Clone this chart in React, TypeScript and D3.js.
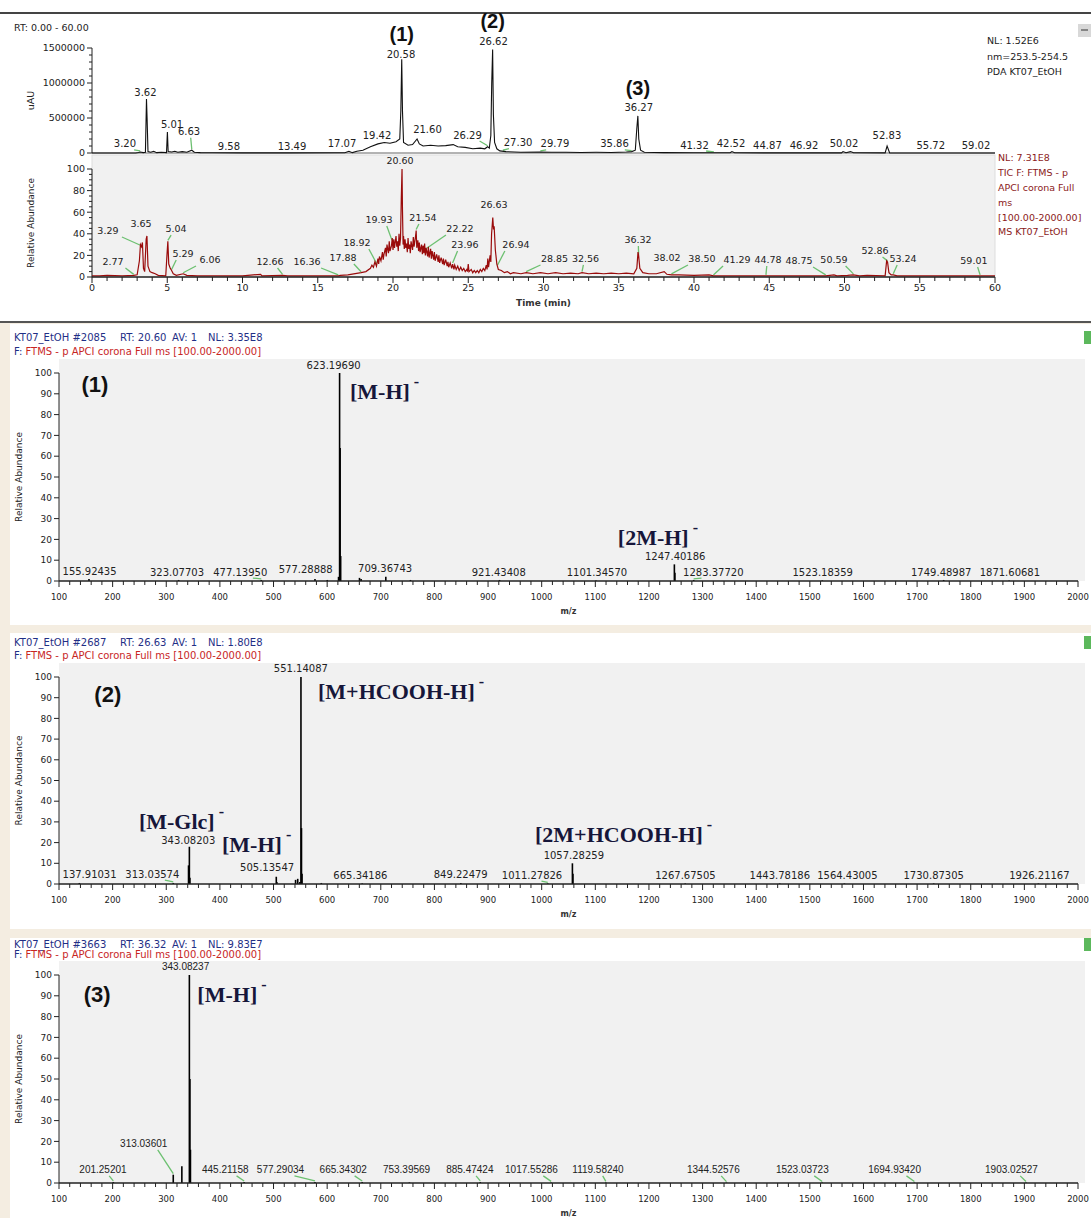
import * as d3 from "d3";
import React from "react";

const W = 1091;
const H = 1218;
const SANS = "'DejaVu Sans', Verdana, sans-serif";
const ARIAL = "'Liberation Sans', Arial, sans-serif";
const SERIF = "'Liberation Serif', 'Times New Roman', serif";

type Pt = [number, number];
type Lbl = [string, number, number];

// ---------- chromatograms ----------
// PDA trace, 253.5-254.5 nm: [time (min), uAU]
const uvTrace: Pt[] = [
	[0, 0], [2.9, 0], [3.1, 8000], [3.2, 15000], [3.4, 5000], [3.55, 10000], [3.62, 770000], [3.66, 500000],
	[3.72, 20000], [3.9, 10000], [4.1, 25000], [4.3, 5000], [4.6, 10000], [4.95, 5000], [5.01, 300000],
	[5.06, 20000], [5.3, 15000], [5.5, 25000], [5.7, 10000], [6.0, 20000], [6.3, 10000], [6.63, 40000],
	[6.8, 10000], [7.2, 5000], [8, 3000], [10, 2000], [13, 2000], [16.8, 3000], [17.07, 25000], [17.3, 5000],
	[17.6, 25000], [18, 40000], [18.5, 90000], [19, 130000], [19.42, 150000], [19.8, 140000], [20.2, 160000],
	[20.45, 200000], [20.52, 600000], [20.58, 1340000], [20.63, 600000], [20.7, 150000], [21, 110000],
	[21.3, 120000], [21.6, 200000], [21.75, 130000], [22, 100000], [22.5, 110000], [23, 100000], [23.5, 105000],
	[24, 120000], [24.3, 90000], [24.8, 80000], [25.3, 60000], [25.8, 70000], [26.1, 60000], [26.29, 90000],
	[26.4, 70000], [26.5, 250000], [26.56, 1000000], [26.62, 1480000], [26.67, 550000], [26.75, 150000],
	[26.9, 60000], [27.1, 30000], [27.5, 20000], [28.5, 10000], [29.79, 15000], [30.5, 10000], [31.5, 10000],
	[32.5, 8000], [33.5, 10000], [34.5, 8000], [35.5, 15000], [35.86, 20000], [36.1, 40000], [36.2, 350000],
	[36.27, 530000], [36.33, 200000], [36.45, 40000], [36.7, 10000], [38, 5000], [40, 3000], [42.4, 3000],
	[42.52, 20000], [42.7, 3000], [46, 2000], [49.8, 2000], [49.9, 20000], [50.1, 3000], [50.4, 20000],
	[50.6, 3000], [52.7, 2000], [52.83, 100000], [53, 2000], [60, 1000],
];

// TIC, relative abundance: [time (min), %]
const ticTrace: Pt[] = [
	[0, 1], [0.5, 1], [1, 1.5], [2, 1], [2.77, 1.5], [3.0, 2], [3.15, 15], [3.22, 30], [3.29, 28], [3.35, 32],
	[3.42, 8], [3.5, 5], [3.6, 35], [3.65, 38], [3.72, 10], [3.85, 5], [4.0, 4], [4.2, 3], [4.4, 1.5], [4.9, 1],
	[4.98, 20], [5.04, 33], [5.1, 12], [5.2, 8], [5.29, 6], [5.4, 3], [5.6, 1.5], [6.06, 3], [6.3, 1.5], [7, 1],
	[10, 1], [11.2, 2.5], [11.3, 1], [12.66, 1.5], [13, 1], [16.36, 1], [16.5, 1.5], [17, 2], [17.88, 4],
	[18.2, 5], [18.5, 8], [18.6, 11], [18.7, 9], [18.8, 14], [18.9, 10], [19.0, 17], [19.05, 12], [19.1, 19],
	[19.2, 15], [19.3, 23], [19.35, 16], [19.4, 21], [19.5, 27], [19.55, 19], [19.6, 30], [19.7, 22],
	[19.75, 33], [19.8, 24], [19.9, 29], [19.95, 36], [20.0, 25], [20.05, 35], [20.1, 27], [20.2, 38],
	[20.25, 28], [20.3, 33], [20.35, 24], [20.4, 40], [20.45, 29], [20.5, 36], [20.55, 72], [20.6, 100],
	[20.63, 62], [20.67, 30], [20.7, 38], [20.75, 26], [20.8, 35], [20.85, 27], [20.9, 31], [20.95, 23],
	[21.0, 36], [21.05, 26], [21.1, 30], [21.15, 22], [21.2, 33], [21.3, 25], [21.35, 37], [21.4, 28],
	[21.45, 33], [21.5, 38], [21.54, 43], [21.58, 27], [21.65, 34], [21.7, 24], [21.75, 32], [21.8, 23],
	[21.9, 30], [21.95, 21], [22.0, 29], [22.05, 22], [22.1, 31], [22.15, 20], [22.2, 27], [22.3, 19],
	[22.35, 28], [22.4, 18], [22.5, 26], [22.55, 17], [22.6, 24], [22.7, 16], [22.75, 23], [22.8, 15],
	[22.9, 21], [23.0, 14], [23.05, 20], [23.1, 13], [23.2, 18], [23.3, 12], [23.35, 17], [23.4, 11],
	[23.5, 16], [23.6, 10], [23.65, 14], [23.7, 9], [23.8, 13], [23.9, 8], [23.96, 12], [24.05, 7], [24.1, 11],
	[24.2, 7], [24.3, 10], [24.4, 6], [24.5, 9], [24.6, 6], [24.7, 8], [24.8, 5], [24.9, 7], [24.95, 5],
	[25.0, 12], [25.05, 5], [25.2, 7], [25.3, 4], [25.4, 6], [25.5, 4], [25.6, 6], [25.7, 4], [25.8, 7],
	[25.9, 5], [26.0, 8], [26.1, 6], [26.2, 11], [26.25, 7], [26.3, 17], [26.35, 9], [26.45, 20], [26.5, 14],
	[26.55, 40], [26.63, 55], [26.68, 44], [26.72, 47], [26.8, 25], [26.9, 12], [27.0, 7], [27.2, 6],
	[27.4, 4], [27.6, 5], [27.8, 3], [28.0, 4], [28.5, 3], [28.85, 4], [29.3, 3], [29.8, 4], [30.3, 3],
	[30.8, 4], [31.3, 3], [31.8, 3.5], [32.3, 3], [32.56, 4], [33, 3], [33.5, 3.5], [34, 3], [34.5, 3.5],
	[35, 3], [35.5, 3.5], [36.0, 3], [36.2, 8], [36.28, 23], [36.32, 20], [36.4, 8], [36.6, 4], [37, 3],
	[37.5, 3], [38.02, 5], [38.2, 2.5], [38.5, 2], [39, 2], [40, 1.5], [41, 2], [41.29, 1], [42, 1],
	[44.78, 1], [46, 1], [48.75, 1], [49.3, 2], [49.5, 1], [50.2, 1.5], [50.59, 2], [51, 1], [51.5, 1.5],
	[52.7, 1], [52.8, 15], [52.86, 14], [52.95, 4], [53.1, 2], [53.24, 2], [53.5, 1], [59.01, 1], [60, 1],
];

// peak labels: [text, label centre time, label centre level]
const uvLabels: Lbl[] = [
	["3.20", 2.19, 129000], ["3.62", 3.55, 861000], ["5.01", 5.32, 414000], ["6.63", 6.45, 304000],
	["9.58", 9.1, 100000], ["13.49", 13.29, 100000], ["17.07", 16.61, 129000], ["19.42", 18.94, 257000],
	["20.58", 20.53, 1414000], ["21.60", 22.29, 329000], ["26.29", 24.95, 257000], ["26.62", 26.68, 1590000],
	["27.30", 28.31, 147000], ["29.79", 30.76, 129000], ["35.86", 34.72, 129000], ["36.27", 36.33, 643000],
	["41.32", 40.03, 114000], ["42.52", 42.46, 129000], ["44.87", 44.88, 114000], ["46.92", 47.31, 114000],
	["50.02", 49.97, 129000], ["52.83", 52.82, 257000], ["55.72", 55.73, 114000], ["59.02", 58.74, 114000],
];

const ticLabels: Lbl[] = [
	["20.60", 20.47, 108], ["3.29", 1.06, 42.6], ["3.65", 3.26, 49], ["5.04", 5.58, 44.4], ["2.77", 1.4, 13.9],
	["5.29", 6.05, 21.3], ["6.06", 7.84, 15.7], ["12.66", 11.83, 13.9], ["16.36", 14.29, 13.9],
	["17.88", 16.68, 17.6], ["18.92", 17.61, 31.5], ["19.93", 19.07, 52.8], ["21.54", 21.99, 54.6],
	["22.22", 24.45, 44.4], ["23.96", 24.78, 29.6], ["26.63", 26.71, 66.7], ["26.94", 28.17, 29.6],
	["28.85", 30.73, 16.7], ["32.56", 32.79, 16.7], ["36.32", 36.28, 34.3], ["38.02", 38.21, 17.6],
	["38.50", 40.53, 16.7], ["41.29", 42.86, 15.7], ["44.78", 44.92, 15.7], ["48.75", 46.98, 14.8],
	["50.59", 49.3, 15.7], ["52.86", 52.03, 24.1], ["53.24", 53.89, 16.7], ["59.01", 58.6, 14.8],
];

const uvInfo = ["NL: 1.52E6", "nm=253.5-254.5", "PDA KT07_EtOH"];
const ticInfo = ["NL: 7.31E8", "TIC F: FTMS - p", "APCI corona Full", "ms", "[100.00-2000.00]", "MS KT07_EtOH"];

// ---------- mass spectra: [m/z, relative abundance] ----------
const spec1Peaks: Pt[] = [
	[155.92, 1], [323.08, 0.5], [477.14, 0.5], [577.29, 1], [600.2, 0.5], [621.19, 2], [623.1969, 100],
	[624.2, 64], [625.2, 12], [660.3, 1.5], [663.3, 1], [709.37, 2], [755.3, 0.5], [921.43, 0.5],
	[1101.35, 0.3], [1247.4019, 8], [1248.4, 4], [1283.38, 0.5], [1523.18, 0.3], [1749.49, 0.5], [1871.61, 0.3],
];
const spec1Labels: Lbl[] = [
	["155.92435", 157, 4.8], ["323.07703", 320, 4.3], ["477.13950", 438, 4.3], ["577.28888", 560, 5.3],
	["623.19690", 612, 103.8], ["709.36743", 708, 5.8], ["921.43408", 920, 4.3], ["1101.34570", 1103, 4.3],
	["1247.40186", 1249, 11.8], ["1283.37720", 1320, 4.3], ["1523.18359", 1524, 4.3],
	["1749.48987", 1745, 4.3], ["1871.60681", 1873, 4.3],
];

const spec2Peaks: Pt[] = [
	[137.91, 0.5], [313.04, 0.5], [341.5, 9], [343.082, 18], [344.09, 3], [505.135, 3.5], [506.14, 1],
	[541.1, 2], [545.1, 2.5], [549.12, 1], [551.14087, 100], [552.14, 27], [553.15, 5], [589.1, 0.5],
	[665.34, 0.3], [849.22, 0.5], [1011.28, 0.3], [1057.2826, 10], [1058.29, 5], [1267.68, 0.3],
	[1443.78, 0.3], [1564.43, 0.3], [1730.87, 0.3], [1926.21, 0.3],
];
const spec2Labels: Lbl[] = [
	["137.91031", 157, 4.8], ["313.03574", 274, 4.8], ["343.08203", 341, 21], ["505.13547", 488, 8.2],
	["551.14087", 551, 103.9], ["665.34186", 662, 3.9], ["849.22479", 849, 4.8], ["1011.27826", 982, 4.3],
	["1057.28259", 1060, 14], ["1267.67505", 1268, 3.9], ["1443.78186", 1444, 3.9], ["1564.43005", 1570, 3.9],
	["1730.87305", 1731, 3.9], ["1926.21167", 1928, 3.9],
];

const spec3Peaks: Pt[] = [
	[201.25, 0.5], [313.036, 4], [329.07, 8], [343.08237, 100], [344.09, 50], [345.09, 16], [445.21, 0.5],
	[577.29, 0.5], [665.34, 0.5], [753.4, 0.3], [885.47, 0.5], [1017.55, 0.3], [1119.58, 0.3],
	[1344.53, 0.2], [1523.04, 0.2], [1694.93, 0.2], [1903.03, 0.2],
];
const spec3Labels: Lbl[] = [
	["201.25201", 182, 6.3], ["313.03601", 258, 18.8], ["343.08237", 336, 104], ["445.21158", 410, 6.3],
	["577.29034", 513, 6.3], ["665.34302", 630, 6.3], ["753.39569", 748, 6.3], ["885.47424", 866, 6.3],
	["1017.55286", 981, 6.3], ["1119.58240", 1105, 6.3], ["1344.52576", 1320, 6.3], ["1523.03723", 1486, 6.3],
	["1694.93420", 1658, 6.3], ["1903.02527", 1876, 6.3],
];

const mzTicks = d3.range(100, 2001, 100);
const abTicks = d3.range(0, 101, 10);

const GREEN = "#6cc070";
const INK = "#222";

function traceAt(trace: Pt[], t: number): number {
	const i = d3.bisector((d: Pt) => d[0]).left(trace, t);
	if (i <= 0) return trace[0][1];
	if (i >= trace.length) return trace[trace.length - 1][1];
	const a = trace[i - 1], b = trace[i];
	return a[1] + ((b[1] - a[1]) * (t - a[0])) / (b[0] - a[0]);
}

function Connector({ lx, ly, px, py }: { lx: number; ly: number; px: number; py: number }) {
	if (Math.hypot(lx - px, ly - py) < 14) return null;
	const sx = lx + Math.max(-14, Math.min(14, (px - lx) * 0.6));
	return <line x1={sx} y1={ly + 6} x2={px} y2={Math.max(py - 1, ly + 6)} stroke={GREEN} strokeWidth={1.3} />;
}

function Chromatograms() {
	const x = d3.scaleLinear().domain([0, 60]).range([92, 995]);
	const yUV = d3.scaleLinear().domain([0, 1500000]).range([153, 48]);
	const yTIC = d3.scaleLinear().domain([0, 100]).range([277, 169]);
	const uvLine = d3.line<Pt>().x((d) => x(d[0])).y((d) => yUV(d[1]));
	const ticLine = d3.line<Pt>().x((d) => x(d[0])).y((d) => yTIC(d[1]));

	return (
		<g fontFamily={SANS}>
			<line x1={0} x2={W} y1={13} y2={13} stroke="#444" strokeWidth={2} />
			<text x={14} y={28} dy="0.35em" fontSize={9.5} fill={INK}>RT: 0.00 - 60.00</text>
			<rect x={1078} y={24} width={13} height={13} fill="#d8d8d8" />
			<line x1={1081} x2={1088} y1={30} y2={30} stroke="#333" />

			{/* UV panel */}
			<line x1={x(0)} x2={x(60)} y1={yUV(0)} y2={yUV(0)} stroke="#666" />
			<line x1={x(0)} x2={x(0)} y1={yUV(0)} y2={yUV(1500000)} stroke={INK} />
			{d3.range(0, 1500001, 100000).map((v) => (
				<line key={v} x1={x(0) - (v % 500000 === 0 ? 5 : 3)} x2={x(0)} y1={yUV(v)} y2={yUV(v)} stroke={INK} />
			))}
			{[0, 500000, 1000000, 1500000].map((v) => (
				<text key={v} x={x(0) - 7} y={yUV(v)} dy="0.35em" fontSize={9.5} textAnchor="end" fill={INK}>{v}</text>
			))}
			<text transform={`translate(34,${yUV(750000)}) rotate(-90)`} fontSize={9.5} textAnchor="middle" fill={INK}>uAU</text>
			{uvLabels.map(([t, lt, lv]) => (
				<Connector key={t} lx={x(lt)} ly={yUV(lv)} px={x(+t)} py={yUV(traceAt(uvTrace, +t))} />
			))}
			<path d={uvLine(uvTrace)!} fill="none" stroke="#111" strokeWidth={1.1} />
			{uvLabels.map(([t, lt, lv]) => (
				<text key={t} x={x(lt)} y={yUV(lv)} dy="0.35em" fontSize={10} textAnchor="middle" fill={INK}>{t}</text>
			))}
			{uvInfo.map((s, i) => (
				<text key={s} x={987} y={41 + i * 15.5} dy="0.35em" fontSize={9.5} fill={INK}>{s}</text>
			))}
			<g fontWeight="bold" fontSize={20} fontFamily={ARIAL} textAnchor="middle" fill="#111">
				<text x={x(20.58)} y={yUV(1700000)} dy="0.35em">(1)</text>
				<text x={x(26.62)} y={yUV(1890000)} dy="0.35em">(2)</text>
				<text x={x(36.27)} y={yUV(925000)} dy="0.35em">(3)</text>
			</g>

			{/* TIC panel */}
			<rect x={x(0)} y={155} width={x(60) - x(0)} height={yTIC(0) - 155} fill="#f1f1f1" stroke="#ddd" />
			<line x1={x(0)} x2={x(0)} y1={yTIC(0)} y2={yTIC(100)} stroke={INK} />
			{d3.range(0, 101, 5).map((v) => (
				<line key={v} x1={x(0) - (v % 20 === 0 ? 5 : 3)} x2={x(0)} y1={yTIC(v)} y2={yTIC(v)} stroke={INK} />
			))}
			{d3.range(0, 101, 20).map((v) => (
				<text key={v} x={x(0) - 7} y={yTIC(v)} dy="0.35em" fontSize={9.5} textAnchor="end" fill={INK}>{v}</text>
			))}
			<text transform={`translate(34,${yTIC(50)}) rotate(-90)`} fontSize={9} textAnchor="middle" fill={INK}>Relative Abundance</text>
			{ticLabels.map(([t, lt, lv]) => (
				<Connector key={t} lx={x(lt)} ly={yTIC(lv)} px={x(+t)} py={yTIC(traceAt(ticTrace, +t))} />
			))}
			<path d={ticLine(ticTrace)!} fill="none" stroke="#9a0b0b" strokeWidth={1.2} />
			{ticLabels.map(([t, lt, lv]) => (
				<text key={t} x={x(lt)} y={yTIC(lv)} dy="0.35em" fontSize={9.5} textAnchor="middle" fill={INK}>{t}</text>
			))}
			<line x1={x(0)} x2={x(60)} y1={yTIC(0)} y2={yTIC(0)} stroke={INK} strokeWidth={1.3} />
			{d3.range(0, 61, 1).map((v) => (
				<line key={v} x1={x(v)} x2={x(v)} y1={yTIC(0)} y2={yTIC(0) + (v % 5 === 0 ? 6 : 4)} stroke={INK} />
			))}
			{d3.range(0, 61, 5).map((v) => (
				<text key={v} x={x(v)} y={288} dy="0.35em" fontSize={9.5} textAnchor="middle" fill={INK}>{v}</text>
			))}
			<text x={x(30)} y={303} dy="0.35em" fontSize={9} fontWeight="bold" textAnchor="middle" fill="#333">Time (min)</text>
			{ticInfo.map((s, i) => (
				<text key={s} x={998} y={158 + i * 14.8} dy="0.35em" fontSize={9.5} fill="#8b1a1a">{s}</text>
			))}
		</g>
	);
}

interface Ann {
	text: string;
	mz: number;
	level: number;
	kind: "num" | "ion";
}

interface SpecProps {
	top: number;
	bottom: number;
	hdrY: number;
	hdr2Y: number;
	plotTop: number;
	y100: number;
	y0: number;
	scan: string[];
	peaks: Pt[];
	labels: Lbl[];
	anns: Ann[];
	labelFont: string;
}

function Spectrum({ top, bottom, hdrY, hdr2Y, plotTop, y100, y0, scan, peaks, labels, anns, labelFont }: SpecProps) {
	const x = d3.scaleLinear().domain([100, 2000]).range([59, 1078]);
	const y = d3.scaleLinear().domain([0, 100]).range([y0, y100]);
	const peakAt = (mz: number) => {
		const p = peaks.reduce((a, b) => (Math.abs(b[0] - mz) < Math.abs(a[0] - mz) ? b : a));
		return Math.abs(p[0] - mz) < 2 ? p[1] : 0;
	};
	const scanX = [14, 120, 172, 208];
	return (
		<g fontFamily={SANS}>
			<rect x={10} y={top} width={W - 10} height={bottom - top} fill="#fff" />
			{scan.map((s, i) => (
				<text key={s} x={scanX[i]} y={hdrY} dy="0.35em" fontSize={10} fill="#1f2f86">{s}</text>
			))}
			<text x={14} y={hdr2Y} dy="0.35em" fontSize={10} fill="#c8261f">
				<tspan fill="#1f2f86">F: </tspan>FTMS - p APCI corona Full ms [100.00-2000.00]
			</text>
			<rect x={1084} y={hdrY - 6} width={7} height={13} fill="#5cb85c" />
			<rect x={x(100)} y={plotTop} width={1085 - x(100)} height={y0 - plotTop} fill="#f1f1f1" />
			<line x1={x(100)} x2={x(100)} y1={y0} y2={y100} stroke={INK} />
			{abTicks.map((v) => (
				<g key={v}>
					<line x1={x(100) - 5} x2={x(100)} y1={y(v)} y2={y(v)} stroke={INK} />
					<text x={x(100) - 7} y={y(v)} dy="0.35em" fontSize={9} textAnchor="end" fill={INK}>{v}</text>
				</g>
			))}
			<text transform={`translate(22,${y(50)}) rotate(-90)`} fontSize={9} textAnchor="middle" fill={INK}>Relative Abundance</text>
			{labels.map(([s, lm, lv]) => (
				<Connector key={s} lx={x(lm)} ly={y(lv)} px={x(+s)} py={y(peakAt(+s))} />
			))}
			{peaks.map(([mz, v]) => (
				<line key={mz} x1={x(mz)} x2={x(mz)} y1={y(0)} y2={y(v)} stroke="#000" strokeWidth={1.6} />
			))}
			{labels.map(([s, lm, lv]) => (
				<text key={s} x={x(lm)} y={y(lv)} dy="0.35em" fontSize={10} fontFamily={labelFont} textAnchor="middle" fill={INK}>{s}</text>
			))}
			<line x1={x(100)} x2={x(2000)} y1={y0} y2={y0} stroke={INK} strokeWidth={1.3} />
			{d3.range(100, 2001, 20).map((v) => (
				<line key={v} x1={x(v)} x2={x(v)} y1={y0} y2={y0 + (v % 100 === 0 ? 6 : 4)} stroke={INK} />
			))}
			{mzTicks.map((v) => (
				<text key={v} x={x(v)} y={y0 + 16} dy="0.35em" fontSize={8.5} textAnchor="middle" fill={INK}>{v}</text>
			))}
			<text x={x(1050)} y={y0 + 30} dy="0.35em" fontSize={8} fontWeight="bold" textAnchor="middle" fill="#333">m/z</text>
			{anns.map((a) =>
				a.kind === "num" ? (
					<text key={a.text} x={x(a.mz)} y={y(a.level)} dy="0.35em" fontSize={22} fontWeight="bold" fontFamily={ARIAL} textAnchor="middle" fill="#111">{a.text}</text>
				) : (
					<text key={a.text} x={x(a.mz)} y={y(a.level)} dy="0.35em" fontSize={22} fontWeight="bold" fontFamily={SERIF} fill="#16163a">
						{a.text}
						<tspan dx={4} dy={-12} fontSize={16}>-</tspan>
					</text>
				)
			)}
		</g>
	);
}

export default function App() {
	return (
		<svg width={W} height={H} style={{ position: "absolute", left: 0, top: 0, background: "#fff" }}>
			<rect width={W} height={H} fill="#fff" />
			<Chromatograms />
			<rect x={0} y={323} width={W} height={H - 323} fill="#f4ede1" />
			<line x1={0} x2={W} y1={322} y2={322} stroke="#555" strokeWidth={2} />
			<Spectrum
				top={324} bottom={625} hdrY={337} hdr2Y={351} plotTop={359} y100={373} y0={581}
				scan={["KT07_EtOH #2085", "RT: 20.60", "AV: 1", "NL: 3.35E8"]}
				peaks={spec1Peaks} labels={spec1Labels} labelFont={SANS}
				anns={[
					{ text: "(1)", mz: 167, level: 94.7, kind: "num" },
					{ text: "[M-H]", mz: 642.6, level: 91.3, kind: "ion" },
					{ text: "[2M-H]", mz: 1142, level: 21, kind: "ion" },
				]}
			/>
			<Spectrum
				top={633} bottom={929} hdrY={642} hdr2Y={655} plotTop={663} y100={677} y0={884}
				scan={["KT07_EtOH #2687", "RT: 26.63", "AV: 1", "NL: 1.80E8"]}
				peaks={spec2Peaks} labels={spec2Labels} labelFont={SANS}
				anns={[
					{ text: "(2)", mz: 191, level: 91.8, kind: "num" },
					{ text: "[M+HCOOH-H]", mz: 583, level: 93.2, kind: "ion" },
					{ text: "[M-Glc]", mz: 249, level: 30.5, kind: "ion" },
					{ text: "[M-H]", mz: 404, level: 19.3, kind: "ion" },
					{ text: "[2M+HCOOH-H]", mz: 987.6, level: 24.2, kind: "ion" },
				]}
			/>
			<Spectrum
				top={938} bottom={H} hdrY={944} hdr2Y={954} plotTop={961} y100={975} y0={1183}
				scan={["KT07_EtOH #3663", "RT: 36.32", "AV: 1", "NL: 9.83E7"]}
				peaks={spec3Peaks} labels={spec3Labels} labelFont={ARIAL}
				anns={[
					{ text: "(3)", mz: 171, level: 90.5, kind: "num" },
					{ text: "[M-H]", mz: 358, level: 90.5, kind: "ion" },
				]}
			/>
		</svg>
	);
}
